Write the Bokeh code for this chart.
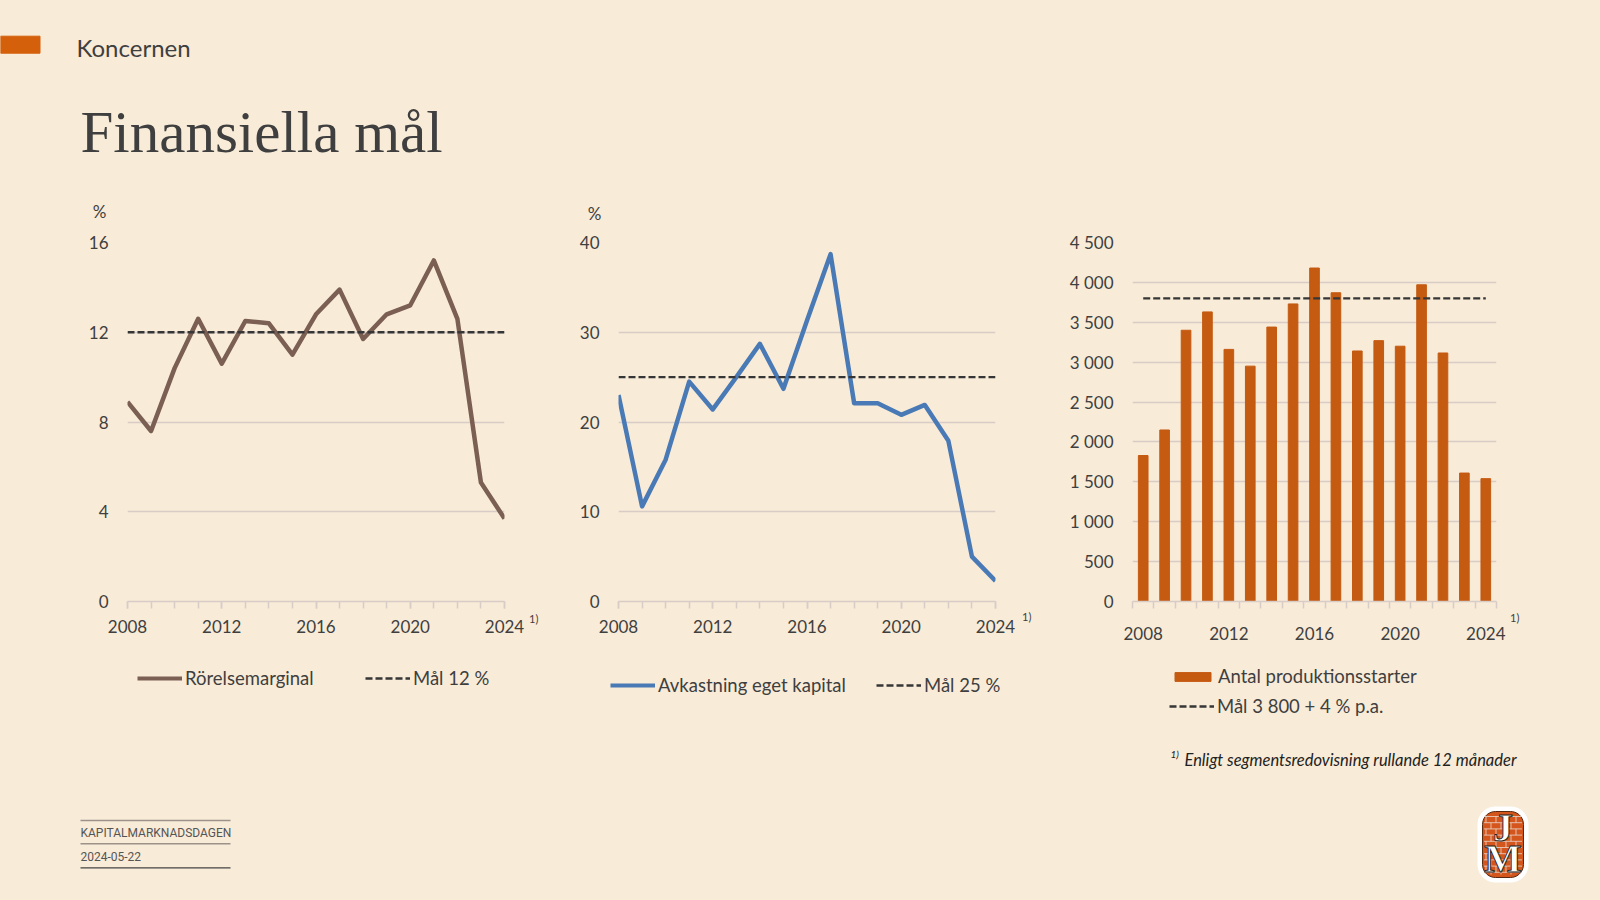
import numpy as np
from bokeh.plotting import figure
from bokeh.models import Range1d, FixedTicker, Legend, LegendItem, Label, Text, Div
from bokeh.layouts import column, row
from bokeh.embed import file_html
from bokeh.resources import INLINE
from bokeh.core.properties import value

# ---------------- data ----------------
years = list(range(2008, 2025))
year_tick_labels = [2008, 2012, 2016, 2020, 2024]

rorelsemarginal = [8.9, 7.6, 10.4, 12.6, 10.6, 12.5, 12.4, 11.0, 12.8, 13.9,
                   11.7, 12.8, 13.2, 15.2, 12.6, 5.3, 3.7]
mal_rorelsemarginal = 12

avkastning_eget_kapital = [23.0, 10.6, 15.8, 24.5, 21.4, 25.0, 28.7, 23.7, 31.3,
                           38.7, 22.1, 22.1, 20.8, 21.9, 17.9, 5.0, 2.3]
mal_avkastning = 25

produktionsstarter = [1830, 2150, 3400, 3630, 3160, 2950, 3440, 3730, 4180, 3870,
                      3140, 3270, 3200, 3970, 3115, 1610, 1540]
mal_produktionsstarter = 3800

y1_ticks = [0, 4, 8, 12, 16]
y2_ticks = [0, 10, 20, 30, 40]
y3_ticks = [0, 500, 1000, 1500, 2000, 2500, 3000, 3500, 4000, 4500]
y3_tick_labels = ["0", "500", "1 000", "1 500", "2 000", "2 500",
                  "3 000", "3 500", "4 000", "4 500"]

legend_labels = ["Rörelsemarginal", "Mål 12 %", "Avkastning eget kapital", "Mål 25 %",
                 "Antal produktionsstarter", "Mål 3 800 + 4 % p.a."]

# ---------------- style ----------------
BG = "#F8EBD8"
GRID = "#D8CCC6"
TXT = "#3F3F3F"
BROWN = "#7A5F52"
BLUE = "#4A7AB6"
ORANGE = "#C55A11"
DASH = "#363636"
FONT = "Lato"
HEAD_BOT = 225
ROW_BOT = 650
ROW_H = ROW_BOT - HEAD_BOT


def page_fig(x0, x1, y0, y1):
    """figure whose data coordinates are page pixels (decoration only)"""
    p = figure(width=x1 - x0, height=y1 - y0, x_range=Range1d(x0, x1),
               y_range=Range1d(y1, y0), output_backend="svg", toolbar_location=None,
               min_border=0, background_fill_color=BG, border_fill_color=BG,
               outline_line_color=None, x_axis_type=None, y_axis_type=None)
    return p


def chart(width, left, fw, top, fh, x_range, y_range, yticks):
    right = width - left - fw
    bottom = ROW_H - top - fh
    p = figure(width=width, height=ROW_H, x_range=x_range, y_range=y_range,
               output_backend="svg", toolbar_location=None,
               min_border_left=left, min_border_right=right,
               min_border_top=top, min_border_bottom=bottom,
               background_fill_color=BG, border_fill_color=BG,
               outline_line_color=None)
    p.xgrid.visible = False
    p.ygrid.grid_line_color = GRID
    p.ygrid.grid_line_width = 1.5
    p.yaxis.ticker = FixedTicker(ticks=yticks)
    p.yaxis.axis_line_color = None
    p.yaxis.major_tick_line_color = None
    p.yaxis.minor_tick_line_color = None
    p.yaxis.major_label_standoff = 13
    p.yaxis.major_label_text_font = FONT
    p.yaxis.major_label_text_font_size = "17px"
    p.yaxis.major_label_text_color = TXT
    p.xaxis.axis_line_color = GRID
    p.xaxis.axis_line_width = 1.5
    p.xaxis.major_tick_line_color = GRID
    p.xaxis.minor_tick_line_color = GRID
    p.xaxis.major_tick_line_width = 1.5
    p.xaxis.minor_tick_line_width = 1.5
    p.xaxis.major_tick_in = 0
    p.xaxis.minor_tick_in = 0
    p.xaxis.minor_tick_out = 7
    p.xaxis.major_label_standoff = 11
    p.xaxis.major_label_text_font = FONT
    p.xaxis.major_label_text_font_size = "17px"
    p.xaxis.major_label_text_color = TXT
    return p


def note(p, x, y, text, size="11px"):
    p.add_layout(Label(x=x, y=y, text=text, text_font=FONT, text_font_size=size,
                       text_color=TXT, text_align="center", text_baseline="middle"))


# ---------------- chart 1 ----------------
c1 = chart(525, 127, 377, 14, 362,
           Range1d(years[0], years[-1]), Range1d(y1_ticks[0], y1_ticks[-1]), y1_ticks)
c1.xaxis.ticker = FixedTicker(ticks=year_tick_labels, minor_ticks=years)
c1.xaxis.major_tick_out = 7
c1.line(years, rorelsemarginal, line_width=4.5, color=BROWN, line_join="round")
c1.line([years[0], years[-1]], [mal_rorelsemarginal] * 2, line_width=2.3,
        color=DASH, line_dash="7 3")

# ---------------- chart 2 ----------------
c2 = chart(458, 58, 377, 17, 362,
           Range1d(years[0], years[-1]), Range1d(y2_ticks[0], y2_ticks[-1]), y2_ticks)
c2.xaxis.ticker = FixedTicker(ticks=year_tick_labels, minor_ticks=years)
c2.xaxis.major_tick_out = 7
c2.line(years, avkastning_eget_kapital, line_width=4.5, color=BLUE, line_join="round")
c2.line([years[0], years[-1]], [mal_avkastning] * 2, line_width=2.3,
        color=DASH, line_dash="7 3")

# ---------------- chart 3 ----------------
c3 = chart(468, 92, 364, 17, 365,
           Range1d(years[0] - 0.5, years[-1] + 0.5),
           Range1d(y3_ticks[0], y3_ticks[-1]), y3_ticks)
c3.xaxis.ticker = FixedTicker(ticks=year_tick_labels,
                              minor_ticks=[y - 0.5 for y in years] + [years[-1] + 0.5])
c3.xaxis.major_tick_out = 0
c3.yaxis.major_label_overrides = dict(zip(y3_ticks, y3_tick_labels))
c3.xaxis.major_label_standoff = 18
c3.vbar(x=years, top=produktionsstarter, width=0.45, color=ORANGE)
c3.line([years[0], years[-1]], [mal_produktionsstarter] * 2, line_width=2.3,
        color=DASH, line_dash="7 3")


# ---------------- spacers carrying the "1)" footnote markers ----------------
def marker(width, left, top):
    html = ('<div style="margin:%dpx 0 0 %dpx;font-family:Lato;font-size:11px;'
            'line-height:13px;color:%s;">1)</div>' % (top, left, TXT))
    return Div(text=html, width=width, height=ROW_H,
               styles={"background-color": BG, "margin": "0", "padding": "0"})


s1 = marker(35, 4, 387)
s2 = marker(22, 4, 385)
s3 = marker(92, 2, 386)

# ---------------- header ----------------
head = page_fig(0, 1600, 0, HEAD_BOT)
head.quad(left=[0], right=[39.5], top=[35.7], bottom=[52.7], color="#D4600C")
head.add_layout(Label(x=76, y=47, text="Koncernen", text_font=FONT, text_font_size="24px",
                      text_color=TXT, text_baseline="middle"))
head.add_layout(Label(x=80, y=131, text="Finansiella mål", text_font="Liberation Serif",
                      text_font_size="59px", text_color=TXT, text_baseline="middle"))
note(head, 99, 210.5, "%", "17px")
note(head, 594, 212.5, "%", "17px")

# ---------------- footer ----------------
foot = page_fig(0, 1600, ROW_BOT, 900)


def legend(fig, renderer, label, x, yc, gh=24):
    leg = Legend(items=[LegendItem(label=label, renderers=[renderer])],
                 location=(x, (900 - yc) - 12), orientation="horizontal",
                 glyph_width=45, glyph_height=gh, label_standoff=3,
                 padding=0, margin=0, spacing=0,
                 background_fill_alpha=0, border_line_alpha=0,
                 label_text_font=FONT, label_text_font_size="18.5px",
                 label_text_color=TXT, label_height=24)
    fig.add_layout(leg)


# legend proxies (same styles as the chart marks, no visible data)
nan2 = [np.nan, np.nan]
p_brown = foot.line(x=nan2, y=nan2, line_width=4.2, color=BROWN)
p_blue = foot.line(x=nan2, y=nan2, line_width=4.2, color=BLUE)
p_dash = foot.line(x=nan2, y=nan2, line_width=2.3, color=DASH, line_dash="7 3")
p_bar = foot.vbar(x=[np.nan], top=[np.nan], width=0.45, color=ORANGE)
legend(foot, p_brown, legend_labels[0], 137, 678.3)
legend(foot, p_dash, legend_labels[1], 365, 678.3)
legend(foot, p_blue, legend_labels[2], 610, 685)
legend(foot, p_dash, legend_labels[3], 876, 685)
legend(foot, p_bar, legend_labels[4], 1170, 676.2, gh=11)
legend(foot, p_dash, legend_labels[5], 1169, 706)

foot.add_layout(Label(x=1170, y=753, text="1)", text_font=FONT, text_font_size="10px",
                      text_font_style="italic", text_color="#222222",
                      text_baseline="middle"))
foot.add_layout(Label(x=1184, y=759, text="Enligt segmentsredovisning rullande 12 månader",
                      text_font=FONT, text_font_size="16.5px", text_font_style="italic",
                      text_color="#222222", text_baseline="middle"))
foot.segment(x0=[80, 80], x1=[230, 230], y0=[820, 843.3], y1=[820, 843.3],
             line_color="#9C928A", line_width=1.4)
foot.segment(x0=[80], x1=[230], y0=[867.3], y1=[867.3], line_color="#444444", line_width=1.2)
foot.add_layout(Label(x=80, y=832, text="KAPITALMARKNADSDAGEN", text_font="Roboto",
                      text_font_size="12px", text_color="#555555", text_baseline="middle"))
foot.add_layout(Label(x=80, y=856, text="2024-05-22", text_font="Roboto",
                      text_font_size="12px", text_color="#555555", text_baseline="middle"))


def rounded(cx, cy, w, h, r, n=10):
    xs, ys = [], []
    for (ccx, ccy, a0) in [(cx + w / 2 - r, cy - h / 2 + r, -90), (cx + w / 2 - r, cy + h / 2 - r, 0),
                           (cx - w / 2 + r, cy + h / 2 - r, 90), (cx - w / 2 + r, cy - h / 2 + r, 180)]:
        for a in np.linspace(np.radians(a0), np.radians(a0 + 90), n):
            xs.append(ccx + r * np.cos(a))
            ys.append(ccy + r * np.sin(a))
    return xs, ys


LX, LY = 1502.5, 844
ox, oy = rounded(LX, LY, 50, 75, 17)
foot.patch(ox, oy, color="white")
ix, iy = rounded(LX, LY, 41, 66, 13)
foot.patch(ix, iy, fill_color="#D4561C", line_color="#5A2A10", line_width=1)
bx0, bx1, by0, by1 = [], [], [], []
rows = np.arange(LY - 28, LY + 30, 6.2)
for i, yy in enumerate(rows):
    bx0.append(LX - 19); bx1.append(LX + 19); by0.append(yy); by1.append(yy)
    shift = 0 if i % 2 == 0 else 5
    for xx in np.arange(LX - 17 + shift, LX + 18, 10):
        bx0.append(xx); bx1.append(xx); by0.append(yy); by1.append(min(yy + 6.2, LY + 30))
foot.segment(x0=bx0, x1=bx1, y0=by0, y1=by1, line_color="#EBD9CF", line_width=0.8)
extra = {}
if "text_outline_color" in Text.properties():
    extra["text_outline_color"] = "#222222"
foot.text(x=[LX, LX], y=[827, 858], text=["J", "M"], text_font=value("Liberation Serif"),
          text_font_style="bold", text_font_size="40px", text_color="white",
          text_align="center", text_baseline="middle", **extra)

layout = column(head, row(c1, s1, c2, s2, c3, s3), foot)

try:
    from jinja2 import Template
    page = Template("{% extends base %}{% block preamble %}"
                    "<style>html, body { background: " + BG + "; }</style>"
                    "{% endblock %}")
    html = file_html(layout, INLINE, template=page)
except Exception:
    html = file_html(layout, INLINE)
open("out.html", "w").write(html)
